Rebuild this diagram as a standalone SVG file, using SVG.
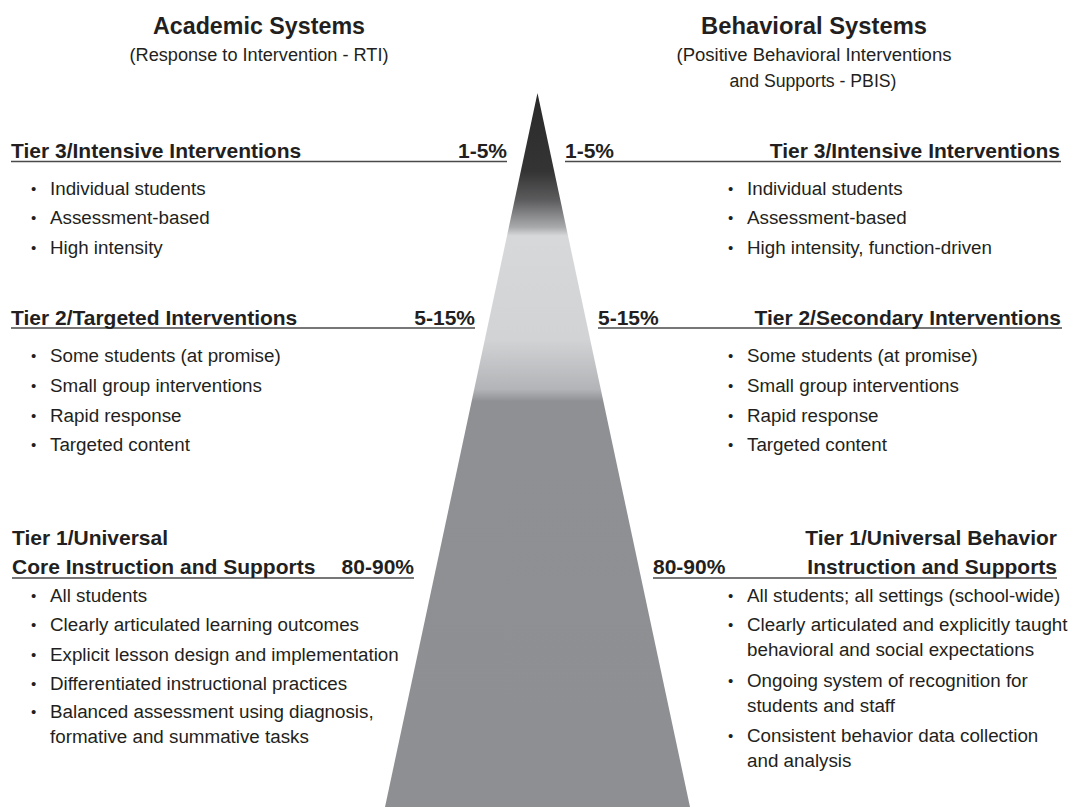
<svg xmlns="http://www.w3.org/2000/svg" width="1077" height="807" viewBox="0 0 1077 807">
<defs>
<linearGradient id="pyr" gradientUnits="userSpaceOnUse" x1="0" y1="93" x2="0" y2="807">
<stop offset="0" stop-color="#2a2a2a"/>
<stop offset="0.11" stop-color="#343434"/>
<stop offset="0.15" stop-color="#5c5c5e"/>
<stop offset="0.188" stop-color="#a9aaac"/>
<stop offset="0.2" stop-color="#d7d8da"/>
<stop offset="0.345" stop-color="#d2d3d5"/>
<stop offset="0.415" stop-color="#b3b4b7"/>
<stop offset="0.432" stop-color="#8f9094"/>
<stop offset="1" stop-color="#8e8f93"/>
</linearGradient>
</defs>
<style>
text{font-family:"Liberation Sans",Arial,sans-serif;fill:#231f20}
.title{font-size:24px;font-weight:bold;text-anchor:middle}
.sub{font-size:18px;text-anchor:middle}
.h{font-size:21px;font-weight:bold}
.e{text-anchor:end}
.b{font-size:18.8px}
.d{font-size:15px}
.rule{stroke:#4a4a4a;stroke-width:1.6;fill:none}
</style>
<rect width="1077" height="807" fill="#ffffff"/>
<g id="pyramid">
<polygon points="537.5,93 690,807 385,807" fill="url(#pyr)"/>
</g>
<g id="headers">
<text class="title" x="259" y="34" textLength="212" lengthAdjust="spacingAndGlyphs">Academic Systems</text>
<text class="sub" x="259" y="61" textLength="259" lengthAdjust="spacingAndGlyphs">(Response to Intervention - RTI)</text>
<text class="title" x="814" y="34" textLength="226" lengthAdjust="spacingAndGlyphs">Behavioral Systems</text>
<text class="sub" x="814" y="61" textLength="275" lengthAdjust="spacingAndGlyphs">(Positive Behavioral Interventions</text>
<text class="sub" x="813" y="87" textLength="167" lengthAdjust="spacingAndGlyphs">and Supports - PBIS)</text>
</g>
<g id="connectors">
<line class="rule" x1="11" y1="161.5" x2="507" y2="161.5"/>
<line class="rule" x1="565" y1="161.5" x2="1061" y2="161.5"/>
<line class="rule" x1="11" y1="328" x2="475" y2="328"/>
<line class="rule" x1="598" y1="328" x2="1062" y2="328"/>
<line class="rule" x1="12" y1="578" x2="414" y2="578"/>
<line class="rule" x1="653" y1="578" x2="1057" y2="578"/>
</g>
<g id="tier3-academic">
<text class="h" x="11" y="158">Tier 3/Intensive Interventions</text>
<text class="h e" x="507" y="158">1-5%</text>
<text class="d" x="31" y="194">•</text><text class="b" x="50" y="195">Individual students</text>
<text class="d" x="31" y="223">•</text><text class="b" x="50" y="224">Assessment-based</text>
<text class="d" x="31" y="253">•</text><text class="b" x="50" y="254">High intensity</text>
</g>
<g id="tier3-behavioral">
<text class="h" x="565" y="158">1-5%</text>
<text class="h e" x="1060" y="158">Tier 3/Intensive Interventions</text>
<text class="d" x="728" y="194">•</text><text class="b" x="747" y="195">Individual students</text>
<text class="d" x="728" y="223">•</text><text class="b" x="747" y="224">Assessment-based</text>
<text class="d" x="728" y="253">•</text><text class="b" x="747" y="254">High intensity, function-driven</text>
</g>
<g id="tier2-academic">
<text class="h" x="11" y="325">Tier 2/Targeted Interventions</text>
<text class="h e" x="475" y="325">5-15%</text>
<text class="d" x="31" y="361">•</text><text class="b" x="50" y="362">Some students (at promise)</text>
<text class="d" x="31" y="391">•</text><text class="b" x="50" y="392">Small group interventions</text>
<text class="d" x="31" y="421">•</text><text class="b" x="50" y="422">Rapid response</text>
<text class="d" x="31" y="450">•</text><text class="b" x="50" y="451">Targeted content</text>
</g>
<g id="tier2-behavioral">
<text class="h" x="598" y="325">5-15%</text>
<text class="h e" x="1061" y="325">Tier 2/Secondary Interventions</text>
<text class="d" x="728" y="361">•</text><text class="b" x="747" y="362">Some students (at promise)</text>
<text class="d" x="728" y="391">•</text><text class="b" x="747" y="392">Small group interventions</text>
<text class="d" x="728" y="421">•</text><text class="b" x="747" y="422">Rapid response</text>
<text class="d" x="728" y="450">•</text><text class="b" x="747" y="451">Targeted content</text>
</g>
<g id="tier1-academic">
<text class="h" x="12" y="545">Tier 1/Universal</text>
<text class="h" x="12" y="574">Core Instruction and Supports</text>
<text class="h e" x="414" y="574">80-90%</text>
<text class="d" x="31" y="601">•</text><text class="b" x="50" y="602">All students</text>
<text class="d" x="31" y="630">•</text><text class="b" x="50" y="631">Clearly articulated learning outcomes</text>
<text class="d" x="31" y="660">•</text><text class="b" x="50" y="661">Explicit lesson design and implementation</text>
<text class="d" x="31" y="689">•</text><text class="b" x="50" y="690">Differentiated instructional practices</text>
<text class="d" x="31" y="717">•</text><text class="b" x="50" y="718">Balanced assessment using diagnosis,</text>
<text class="b" x="50" y="743">formative and summative tasks</text>
</g>
<g id="tier1-behavioral">
<text class="h e" x="1057" y="545">Tier 1/Universal Behavior</text>
<text class="h" x="653" y="574">80-90%</text>
<text class="h e" x="1057" y="574">Instruction and Supports</text>
<text class="d" x="728" y="601">•</text><text class="b" x="747" y="602">All students; all settings (school-wide)</text>
<text class="d" x="728" y="630">•</text><text class="b" x="747" y="631">Clearly articulated and explicitly taught</text>
<text class="b" x="747" y="656">behavioral and social expectations</text>
<text class="d" x="728" y="686">•</text><text class="b" x="747" y="687">Ongoing system of recognition for</text>
<text class="b" x="747" y="712">students and staff</text>
<text class="d" x="728" y="741">•</text><text class="b" x="747" y="742">Consistent behavior data collection</text>
<text class="b" x="747" y="767">and analysis</text>
</g>
</svg>
